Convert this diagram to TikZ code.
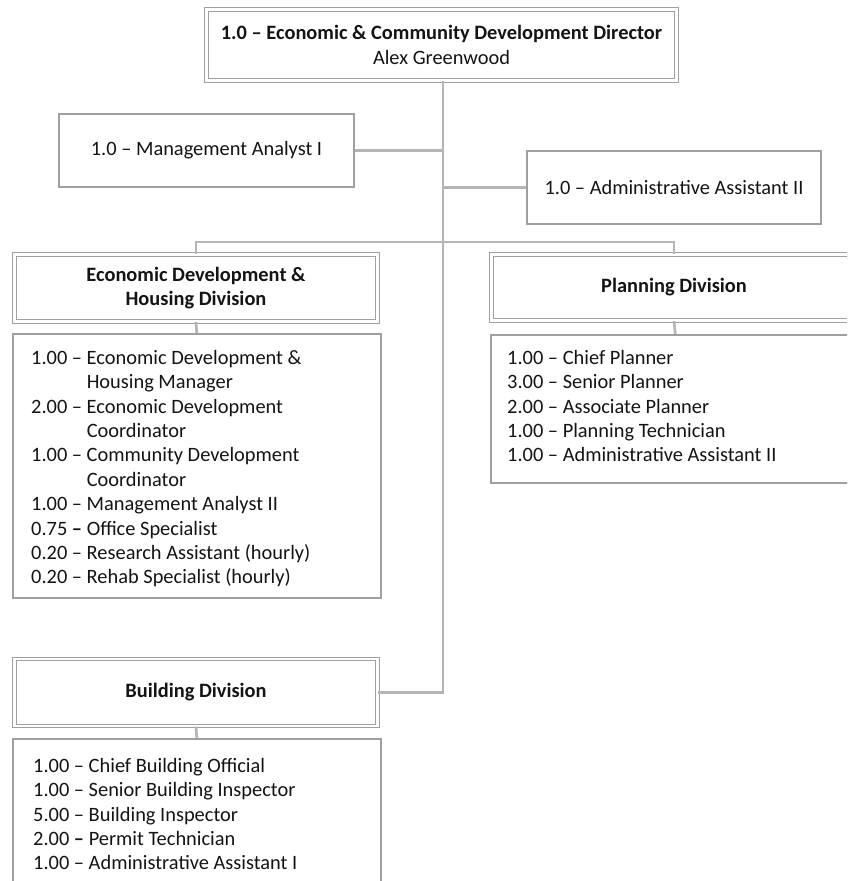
\documentclass[tikz,border=0pt]{standalone}
\usepackage{fontspec}
\setmainfont{Carlito}
\definecolor{boxgray}{HTML}{A0A0A0}
\definecolor{linegray}{HTML}{B5B5B5}
\definecolor{inkc}{HTML}{141414}
\begin{document}
\begin{tikzpicture}[x=1pt,y=-1pt,
  every node/.style={font=\fontsize{20.4}{24.4}\selectfont, text=inkc},
  single/.style={draw=boxgray, line width=1.5pt, fill=white, inner sep=0pt},
  dbl/.style={draw=boxgray, double=white, double distance=2.2pt, line width=1.2pt, fill=white, inner sep=0pt, align=center},
  divfont/.style={font=\bfseries\fontsize{20.4}{24.4}\selectfont},
  conn/.style={draw=linegray, line width=2.6pt},
  listtext/.style={anchor=north west, inner sep=0pt}]
\useasboundingbox (0,0) rectangle (847,881);
\clip (0,0) rectangle (847,881);
\fill[white] (0,0) rectangle (847,881);

% director
\node[dbl, minimum width=470, minimum height=71] (dir) at (441.5,45)
  {\textbf{1.0 – Economic \& Community Development Director}\\Alex Greenwood};

% staff boxes
\node[single, minimum width=295, minimum height=73] (mgmt) at (206.5,150.5) {1.0 – Management Analyst I};
\node[single, minimum width=294, minimum height=73] (admin) at (674,187.5) {1.0 – Administrative Assistant II};

% divisions
\node[dbl, divfont, minimum width=363, minimum height=67] (econ) at (196,288)
  {Economic Development \&\\Housing Division};
\node[dbl, divfont, minimum width=365, minimum height=66] (plan) at (674,287.5)
  {Planning Division};
\node[dbl, divfont, minimum width=363, minimum height=67] (bldg) at (196,692.5)
  {Building Division};

% list boxes
\node[single, minimum width=368, minimum height=264, anchor=north west] (econlist) at (12,333) {};
\node[single, minimum width=369, minimum height=148, anchor=north west] (planlist) at (490,334) {};
\node[single, minimum width=368, minimum height=200, anchor=north west] (bldglist) at (12,738) {};

\node[listtext] (econtext) at (31,347) {\begin{tabular}{@{}l@{\ }l@{}}
1.00 – & Economic Development \&\\
 & Housing Manager\\
2.00 – & Economic Development\\
 & Coordinator\\
1.00 – & Community Development\\
 & Coordinator\\
1.00 – & Management Analyst II\\
0.75 \textbf{–} & Office Specialist\\
0.20 – & Research Assistant (hourly)\\
0.20 – & Rehab Specialist (hourly)
\end{tabular}};

\node[listtext] (plantext) at (507,347) {\begin{tabular}{@{}l@{\ }l@{}}
1.00 – & Chief Planner\\
3.00 – & Senior Planner\\
2.00 – & Associate Planner\\
1.00 – & Planning Technician\\
1.00 – & Administrative Assistant II
\end{tabular}};

\node[listtext] (bldgtext) at (33,755) {\begin{tabular}{@{}l@{\ }l@{}}
1.00 – & Chief Building Official\\
1.00 – & Senior Building Inspector\\
5.00 – & Building Inspector\\
2.00 \textbf{–} & Permit Technician\\
1.00 – & Administrative Assistant I
\end{tabular}};

% connectors
\coordinate (trunk) at (443,692.5);
\coordinate (bus) at (443,242);
\draw[conn] (dir.south -| trunk) -- (trunk) -- (bldg.east);
\draw[conn] (mgmt.east) -- (mgmt.east -| trunk);
\draw[conn] (admin.west) -- (admin.west -| trunk);
\draw[conn] (econ.north) -- (econ.north |- bus) -- (plan.north |- bus) -- (plan.north);
\draw[conn] (econ.south) -- (econlist.north);
\draw[conn] (plan.south) -- (planlist.north);
\draw[conn] (bldg.south) -- (bldglist.north);
\end{tikzpicture}
\end{document}
